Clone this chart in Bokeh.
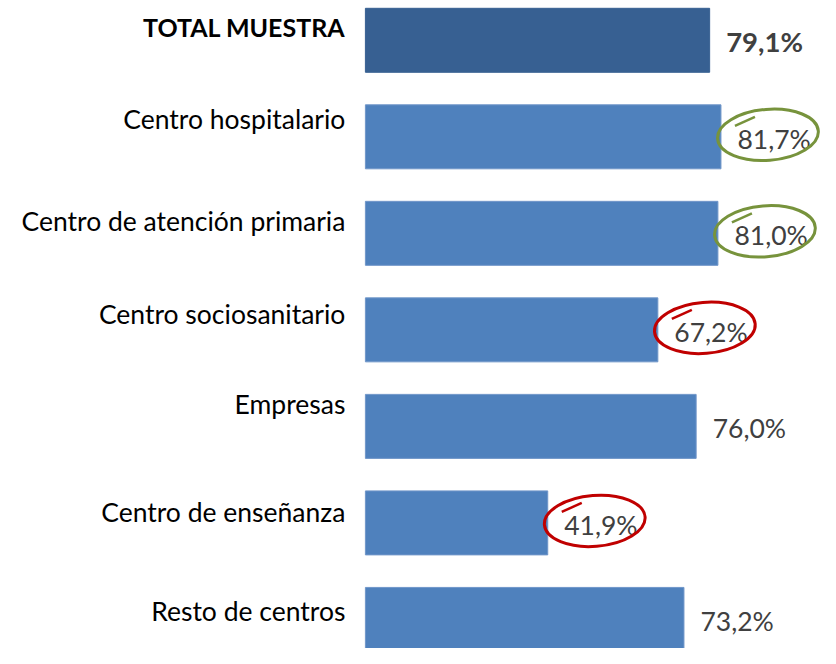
from bokeh.plotting import figure
from bokeh.models import Range1d, ColumnDataSource
from bokeh.core.properties import value
from bokeh.embed import file_html
from bokeh.resources import INLINE

categories = ["TOTAL MUESTRA", "Centro hospitalario", "Centro de atención primaria",
              "Centro sociosanitario", "Empresas", "Centro de enseñanza", "Resto de centros"]
values = [79.1, 81.7, 81.0, 67.2, 76.0, 41.9, 73.2]
value_labels = ["79,1%", "81,7%", "81,0%", "67,2%", "76,0%", "41,9%", "73,2%"]
highlight = ["none", "good", "good", "bad", "none", "bad", "none"]

# layout / style (pixels)
label_offset_px = [-13, -18, -12, -16, -22, -11, -8]
W, H = 820, 648
X0_PX = 364.9          # pixel where 0 % sits
PX_PER_UNIT = 4.352
ROW_PX = 96.52
FIRST_ROW_PX = 39.8
x_start = -X0_PX / PX_PER_UNIT
x_end = x_start + W / PX_PER_UNIT
y_top = -FIRST_ROW_PX / ROW_PX
y_bottom = y_top + H / ROW_PX

p = figure(width=W, height=H, output_backend="svg", toolbar_location=None,
           x_range=Range1d(x_start, x_end), y_range=Range1d(y_bottom, y_top),
           min_border=0, outline_line_color=None)
p.xaxis.visible = False
p.yaxis.visible = False
p.grid.visible = False
p.background_fill_color = "white"
p.border_fill_color = "white"

ys = list(range(len(categories)))
bar_colors = ["#376092"] + ["#4F81BD"] * (len(categories) - 1)
line_colors = ["#376092"] + ["#7096C9"] * (len(categories) - 1)
src = ColumnDataSource(dict(y=ys, v=values, fc=bar_colors, lc=line_colors))
p.hbar(y="y", left=0, right="v", height=0.663, fill_color="fc", line_color="lc",
       line_width=1, source=src)

# category labels
for i, (cat, off) in enumerate(zip(categories, label_offset_px)):
    bold = i == 0
    p.text(x=[0], y=[ys[i]], text=[cat], x_offset=-20, y_offset=off,
           text_align="right", text_baseline="middle", text_font=value("Lato"),
           text_font_size="25px" if bold else "26.5px",
           text_font_style="bold" if bold else "normal", text_color="#000000")

# value labels
reg = ColumnDataSource(dict(y=ys[1:], v=values[1:], lab=value_labels[1:]))
tot = ColumnDataSource(dict(y=ys[:1], v=values[:1], lab=value_labels[:1]))
p.text(x="v", y="y", text="lab", source=reg, x_offset=16.5, y_offset=2,
       text_align="left", text_baseline="middle", text_font=value("Lato"),
       text_font_size="26.5px", text_color="#404040")
p.text(x="v", y="y", text="lab", source=tot, x_offset=16.5, y_offset=1,
       text_align="left", text_baseline="middle", text_font=value("Lato"),
       text_font_size="27.5px", text_font_style="bold", text_color="#404040")

# hand-drawn highlight ellipses
dx = 47 / PX_PER_UNIT
for kind, color in (("good", "#77933C"), ("bad", "#C00000")):
    idx = [i for i, h in enumerate(highlight) if h == kind]
    ex = [values[i] + dx for i in idx]
    ey = [ys[i] - 2 / ROW_PX for i in idx]
    p.ellipse(x=ex, y=ey, width=101, height=51, width_units="screen",
              height_units="screen", angle=0.08, fill_color=None,
              line_color=color, line_width=3)
    p.segment(x0=[x - 33 / PX_PER_UNIT for x in ex], y0=[y - 9 / ROW_PX for y in ey],
              x1=[x - 13 / PX_PER_UNIT for x in ex], y1=[y - 18 / ROW_PX for y in ey],
              line_color=color, line_width=2.5)

open("out.html", "w").write(file_html(p, INLINE))
